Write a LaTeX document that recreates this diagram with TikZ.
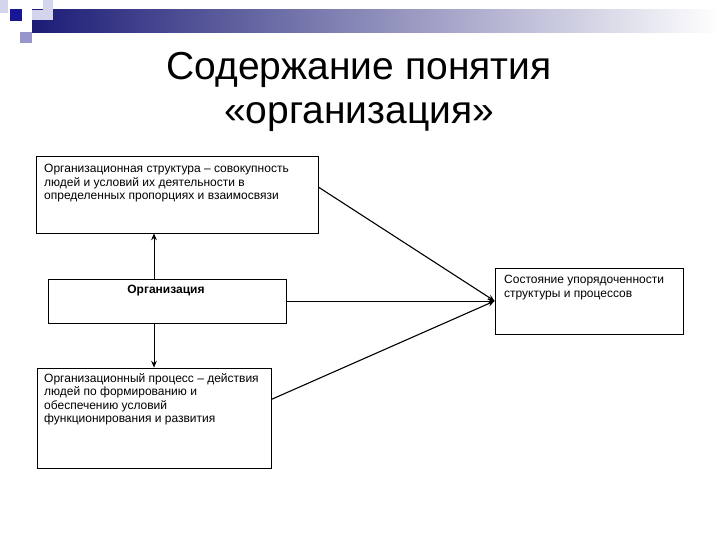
\documentclass[tikz,border=0pt]{standalone}
\usepackage{fontspec}
\setmainfont{Liberation Sans}
\usepackage{xcolor}
\usetikzlibrary{arrows.meta, positioning, calc}

\definecolor{hdnavy}{RGB}{28,28,118}
\definecolor{hdblue}{RGB}{22,22,150}
\definecolor{hdlav}{RGB}{150,150,205}
\definecolor{hdpale}{RGB}{212,212,236}

\begin{document}
\begin{tikzpicture}[
  x=1pt, y=-1pt,
  box/.style={draw, line width=0.8pt, inner sep=0pt},
  boxtext/.style={font=\fontsize{12}{13.6}\selectfont, align=left, inner sep=0pt, anchor=north west},
  titletext/.style={font=\fontsize{39}{46}\selectfont, inner sep=0pt, anchor=base},
  link/.style={line width=1.1pt, -{Stealth[length=2.4mm, width=2mm]}},
]
  \useasboundingbox (0,0) rectangle (720,540);

  % ── Header bar ──
  \fill[hdpale] (0,0) rectangle (8,13);
  \shade[left color=hdnavy, middle color=hdnavy!40!white, right color=white] (32,10) rectangle (720,33);
  \fill[hdpale] (32,10) rectangle (53,20);
  \fill[hdpale] (43,0) rectangle (53,10);
  \fill[hdblue] (10,9) rectangle (22,21);
  \fill[hdlav] (20,32) rectangle (32,43);

  % ── Title ──
  \node[titletext] (titleA) at (359,80) {Содержание понятия};
  \node[titletext] (titleB) at (359,124) {«организация»};

  % ── Boxes ──
  \node[box, minimum width=282pt, minimum height=77pt] (struct) at (177,194.5) {};
  \node[box, minimum width=238pt, minimum height=44pt] (org) at (167,301) {};
  \node[box, minimum width=234pt, minimum height=100pt] (proc) at (154,418) {};
  \node[box, minimum width=188pt, minimum height=66pt] (state) at (589,301) {};

  % ── Box texts ──
  \node[boxtext] (structlbl) at (44,164)
    {Организационная структура – совокупность\\людей и условий их деятельности в\\определенных пропорциях и взаимосвязи};
  \node[boxtext, anchor=north, font=\fontsize{12}{13.6}\selectfont\bfseries] (orglbl) at (166,285) {Организация};
  \node[boxtext] (proclbl) at (44,373)
    {Организационный процесс – действия\\людей по формированию и\\обеспечению условий\\функционирования и развития};
  \node[boxtext] (statelbl) at (504,275)
    {Состояние упорядоченности\\структуры и процессов};

  % ── Connectors ──
  \draw[link, line width=0.8pt] (org.north -| proc.north) -- (struct.south -| proc.north);
  \draw[link, line width=0.8pt] (org.south -| proc.north) -- (proc.north);
  \draw[link] (struct.3) -- (state.west);
  \draw[link, line width=0.8pt] (org.east) -- (state.west);
  \draw[link] (proc.9) -- (state.west);

\end{tikzpicture}
\end{document}
